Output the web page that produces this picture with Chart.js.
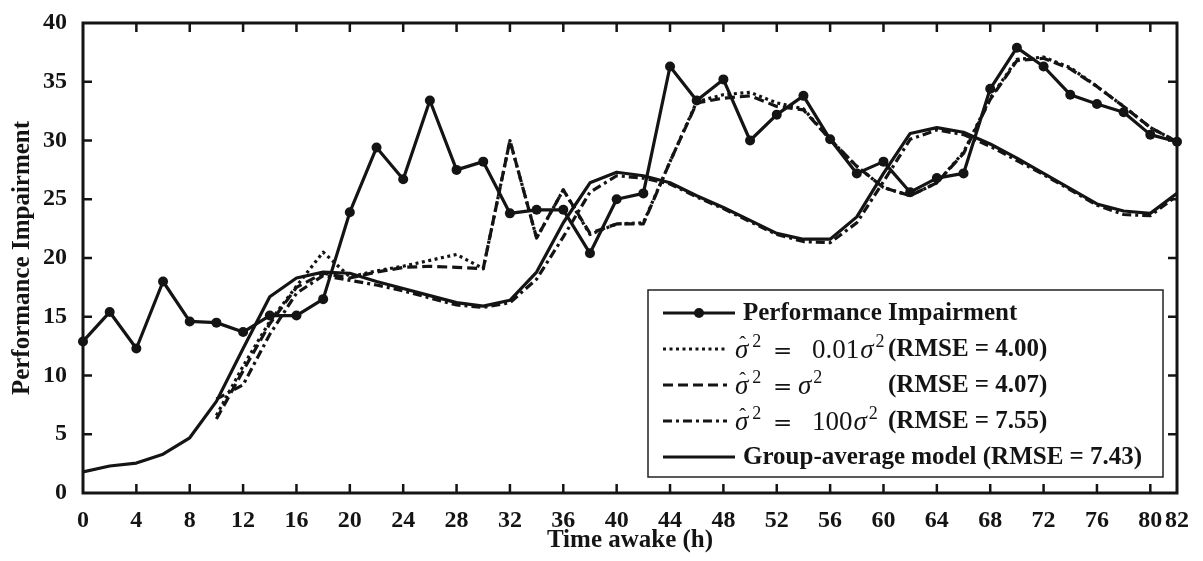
<!DOCTYPE html>
<html>
<head>
<meta charset="utf-8">
<script src="https://cdn.jsdelivr.net/npm/chart.js@4.4.1/dist/chart.umd.min.js"></script>
<style>
  html, body { margin: 0; padding: 0; background: #ffffff; }
  #wrap { width: 1203px; height: 561px; position: relative; }
</style>
</head>
<body>
<div id="wrap"><canvas id="c" width="1203" height="561"></canvas></div>
<script>
// ---------------- DATA ----------------
const hours = [0,2,4,6,8,10,12,14,16,18,20,22,24,26,28,30,32,34,36,38,40,42,44,46,48,50,52,54,56,58,60,62,64,66,68,70,72,74,76,78,80,82];
const performanceImpairment = [12.9,15.4,12.3,18.0,14.6,14.5,13.7,15.1,15.1,16.5,23.9,29.4,26.7,33.4,27.5,28.2,23.8,24.1,24.1,20.4,25.0,25.5,36.3,33.4,35.2,30.0,32.2,33.8,30.1,27.2,28.2,25.6,26.8,27.2,34.4,37.9,36.3,33.9,33.1,32.4,30.5,29.9];
const groupAverage = [1.8,2.3,2.55,3.3,4.7,7.8,12.3,16.7,18.3,18.8,18.7,18.0,17.4,16.8,16.2,15.9,16.4,18.8,23.0,26.4,27.3,27.0,26.4,25.3,24.3,23.2,22.1,21.6,21.6,23.5,27.2,30.6,31.1,30.7,29.7,28.5,27.2,25.9,24.6,24.0,23.8,25.5];
const modelHours = [10,12,14,16,18,20,22,24,26,28,30,32,34,36,38,40,42,44,46,48,50,52,54,56,58,60,62,64,66,68,70,72,74,76,78,80,82];
const sigmaHat001 = [6.6,10.8,14.6,17.6,20.5,18.4,18.9,19.3,19.8,20.3,19.1,30.0,21.7,25.8,22.0,22.9,23.0,28.2,33.3,33.9,34.1,33.2,32.7,30.1,27.8,26.0,25.3,26.4,29.0,33.6,36.9,37.1,36.2,34.6,32.9,31.1,29.9];
const sigmaHat1 = [6.3,10.4,14.4,17.5,18.7,18.3,18.8,19.2,19.3,19.2,19.1,30.0,21.7,25.8,22.1,22.9,22.9,28.2,33.2,33.6,33.8,32.9,32.6,30.1,27.8,26.0,25.3,26.4,28.9,33.5,36.8,37.0,36.1,34.6,32.9,31.1,29.9];
const sigmaHat100 = [8.0,9.2,13.5,17.0,18.5,18.1,17.7,17.2,16.6,16.0,15.8,16.2,18.2,21.8,25.6,27.0,26.8,26.3,25.2,24.2,23.1,22.0,21.4,21.3,23.0,26.5,30.1,30.9,30.5,29.5,28.3,27.1,25.8,24.5,23.7,23.6,25.3];
const xTickLabels = [0,4,8,12,16,20,24,28,32,36,40,44,48,52,56,60,64,68,72,76,80,82];
const yTickLabels = [0,5,10,15,20,25,30,35,40];
const seriesNames = ['Performance Impairment', 'σ̂² = 0.01σ² (RMSE = 4.00)', 'σ̂² = σ² (RMSE = 4.07)', 'σ̂² = 100σ² (RMSE = 7.55)', 'Group-average model (RMSE = 7.43)'];
const legendCoefficients = [null, '0.01', '', '100', null];
const legendRmse = [null, '(RMSE = 4.00)', '(RMSE = 4.07)', '(RMSE = 7.55)', null];

// ---------------- CHART ----------------
const INK = '#141414';
const SERIF = "'Liberation Serif', 'Times New Roman', serif";
const MATH = "'DejaVu Serif', 'Liberation Serif', serif";
const pts = (xs, ys) => xs.map((x, i) => ({ x: x, y: ys[i] }));

const frameAndLegend = {
  id: 'frameAndLegend',
  afterDraw(chart) {
    const ctx = chart.ctx;
    const { left, right, top, bottom } = chart.chartArea;
    const xs = chart.scales.x, ys = chart.scales.y;
    ctx.save();
    ctx.strokeStyle = INK;
    ctx.lineCap = 'butt';
    // inward ticks on all four sides
    ctx.lineWidth = 2.5;
    const tl = 9;
    xTickLabels.forEach(v => {
      if (v <= xs.min || v >= xs.max) return;
      const px = xs.getPixelForValue(v);
      ctx.beginPath();
      ctx.moveTo(px, bottom); ctx.lineTo(px, bottom - tl);
      ctx.moveTo(px, top); ctx.lineTo(px, top + tl);
      ctx.stroke();
    });
    yTickLabels.forEach(v => {
      if (v <= ys.min || v >= ys.max) return;
      const py = ys.getPixelForValue(v);
      ctx.beginPath();
      ctx.moveTo(left, py); ctx.lineTo(left + tl, py);
      ctx.moveTo(right, py); ctx.lineTo(right - tl, py);
      ctx.stroke();
    });
    // frame
    ctx.lineWidth = 3;
    ctx.strokeRect(left, top, right - left, bottom - top);

    // legend box
    const bx = right - 529, by = bottom - 203, bw = 515, bh = 187;
    ctx.fillStyle = '#ffffff';
    ctx.fillRect(bx, by, bw, bh);
    ctx.lineWidth = 1.5;
    ctx.strokeStyle = '#222';
    ctx.strokeRect(bx, by, bw, bh);

    const rowY = [by + 23, by + 59, by + 95, by + 131, by + 167];
    const lx0 = bx + 15, lx1Math = bx + 79, lx1 = bx + 87;
    chart.data.datasets.forEach((ds, i) => {
      const cy = rowY[i];
      const isMath = legendCoefficients[i] !== null;
      // sample line
      ctx.save();
      ctx.strokeStyle = INK;
      ctx.lineWidth = ds.borderWidth;
      ctx.setLineDash(ds.borderDash || []);
      ctx.beginPath();
      ctx.moveTo(lx0, cy);
      ctx.lineTo(isMath ? lx1Math : lx1, cy);
      ctx.stroke();
      ctx.restore();
      if (ds.pointRadius > 0) {
        ctx.fillStyle = INK;
        ctx.beginPath();
        ctx.arc((lx0 + lx1) / 2, cy, ds.pointRadius, 0, Math.PI * 2);
        ctx.fill();
      }
      ctx.fillStyle = INK;
      if (!isMath) {
        ctx.font = 'bold 25px ' + SERIF;
        ctx.textAlign = 'left';
        ctx.textBaseline = 'middle';
        ctx.fillText(ds.label, lx1 + 8, cy + 1);
      } else {
        const base = cy + 9;
        ctx.textAlign = 'left';
        ctx.textBaseline = 'alphabetic';
        // sigma hat
        let x = bx + 87;
        ctx.font = 'italic 27px ' + SERIF;
        const ws = ctx.measureText('σ').width;
        ctx.fillText('σ', x, base);
        ctx.font = '20px ' + SERIF;
        ctx.textAlign = 'center';
        ctx.fillText('\u02C6', x + ws / 2 + 1, base - 7);
        ctx.textAlign = 'left';
        ctx.font = '18px ' + SERIF;
        ctx.fillText('2', x + ws + 4, base - 11);
        ctx.font = '23px ' + MATH;
        ctx.fillText('=', bx + 125, base);
        x = bx + 150;
        const coef = legendCoefficients[i];
        ctx.font = '27px ' + SERIF;
        if (coef) {
          x = bx + 164;
          ctx.fillText(coef, x, base);
          x += ctx.measureText(coef).width + 1;
        }
        ctx.font = 'italic 27px ' + SERIF;
        ctx.fillText('σ', x, base);
        x += ctx.measureText('σ').width + 2;
        ctx.font = '18px ' + SERIF;
        ctx.fillText('2', x, base - 11);
        ctx.font = 'bold 25px ' + SERIF;
        ctx.textBaseline = 'middle';
        ctx.fillText(legendRmse[i], bx + 240, cy + 1);
      }
    });
    ctx.restore();
  }
};

new Chart(document.getElementById('c'), {
  type: 'line',
  data: {
    datasets: [
      { label: seriesNames[0], data: pts(hours, performanceImpairment), borderColor: INK, backgroundColor: INK,
        borderWidth: 3.2, pointRadius: 5, pointBackgroundColor: INK, pointBorderColor: INK, pointBorderWidth: 0, clip: false },
      { label: seriesNames[1], data: pts(modelHours, sigmaHat001), borderColor: INK, borderWidth: 3.2,
        borderDash: [3, 3.5], pointRadius: 0 },
      { label: seriesNames[2], data: pts(modelHours, sigmaHat1), borderColor: INK, borderWidth: 3.2,
        borderDash: [10, 5], pointRadius: 0 },
      { label: seriesNames[3], data: pts(modelHours, sigmaHat100), borderColor: INK, borderWidth: 3.2,
        borderDash: [9, 4, 3, 4], pointRadius: 0 },
      { label: seriesNames[4], data: pts(hours, groupAverage), borderColor: INK, borderWidth: 3.2, pointRadius: 0 }
    ]
  },
  options: {
    responsive: false,
    animation: false,
    devicePixelRatio: 1,
    layout: { padding: { left: 0, right: 26, top: 23, bottom: 0 } },
    elements: { line: { tension: 0, borderCapStyle: 'butt', borderJoinStyle: 'round' } },
    plugins: { legend: { display: false }, tooltip: { enabled: false } },
    scales: {
      x: {
        type: 'linear', min: 0, max: 82,
        grid: { display: false }, border: { display: false },
        afterBuildTicks: s => { s.ticks = xTickLabels.map(v => ({ value: v })); },
        afterFit: s => { s.height = 68; },
        ticks: { font: { family: SERIF, size: 24, weight: 'bold' }, color: INK, padding: 5, maxRotation: 0, autoSkip: false },
        title: { display: true, text: 'Time awake (h)', font: { family: SERIF, size: 25, weight: 'bold' }, color: INK, padding: { top: 0, bottom: 5 } }
      },
      y: {
        type: 'linear', min: 0, max: 40,
        grid: { display: false }, border: { display: false },
        afterBuildTicks: s => { s.ticks = yTickLabels.map(v => ({ value: v })); },
        afterFit: s => { s.width = 83; },
        ticks: { font: { family: SERIF, size: 24, weight: 'bold' }, color: INK, padding: 8 },
        title: { display: true, text: 'Performance Impairment', font: { family: SERIF, size: 25, weight: 'bold' }, color: INK, padding: { top: 8, bottom: 0 } }
      }
    }
  },
  plugins: [frameAndLegend]
});
</script>
</body>
</html>
